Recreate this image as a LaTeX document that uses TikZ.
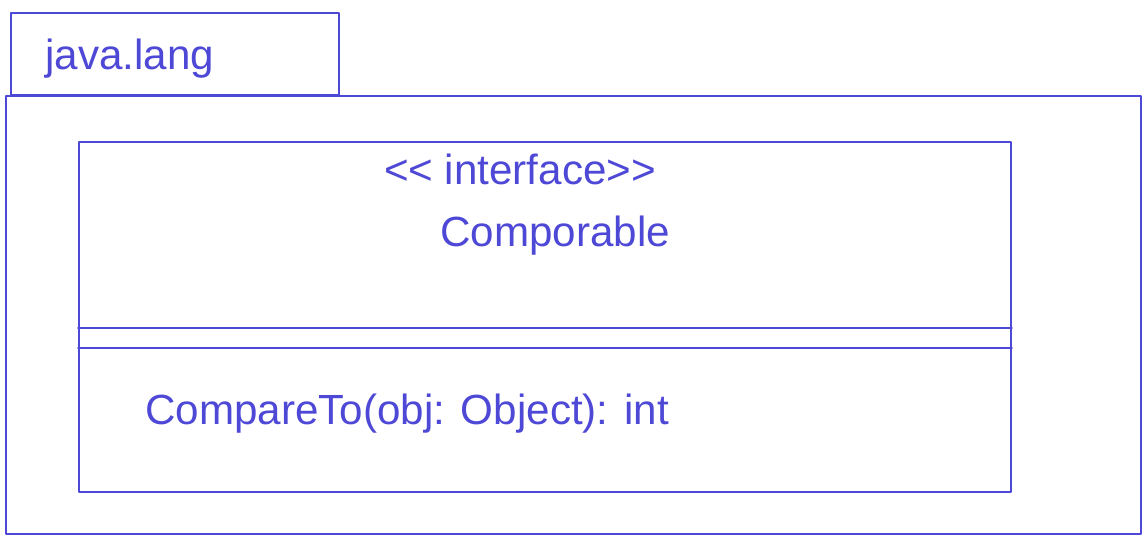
\documentclass[tikz,border=0pt]{standalone}
\usepackage{fontspec}
\setmainfont{Liberation Sans}
\usetikzlibrary{arrows.meta}
\usetikzlibrary{positioning}

\begin{document}
\begin{tikzpicture}[>=Latex, line cap=round, line join=round]
		
		% Colors
		\definecolor{InkBlue}{RGB}{78,72,214}
		
		% Styles
		\tikzset{
			frame/.style={draw=InkBlue, line width=1.1pt, inner sep=0pt, anchor=south west},
			ink/.style={draw=InkBlue, line width=1pt},
			lbl/.style={text=InkBlue, font=\fontsize{24}{28}\selectfont, inner sep=0pt}
		}
		
		\useasboundingbox (0,0) rectangle (22.9,10.76);
		
		% Package
		\node[frame, minimum width=6.56cm, minimum height=1.64cm] (pkgtab) at (0.2,8.84) {};
		\node[frame, minimum width=22.7cm, minimum height=8.76cm] (pkgbody) at (0.1,0.06) {};
		\node[lbl, anchor=west] (pkgname) at (0.9,9.58) {java.lang};
		
		% Class
		\node[frame, minimum width=18.64cm, minimum height=7.0cm] (cls) at (1.56,0.9) {};
		\node[lbl] (stereo) at (10.4,7.38) {{<}{<} interface{>}{>}};
		\node[lbl, below=0.62cm of stereo, xshift=0.7cm] (clsname) {Comporable};
		
		% Compartments
		\draw[ink] (cls.west |- 0,4.2) -- (cls.east |- 0,4.2);
		\draw[ink] (cls.west |- 0,3.8) -- (cls.east |- 0,3.8);
		\node[lbl, anchor=west] (method) at (2.9,2.48) {CompareTo(obj: Object): int};
		
	\end{tikzpicture}
\end{document}
